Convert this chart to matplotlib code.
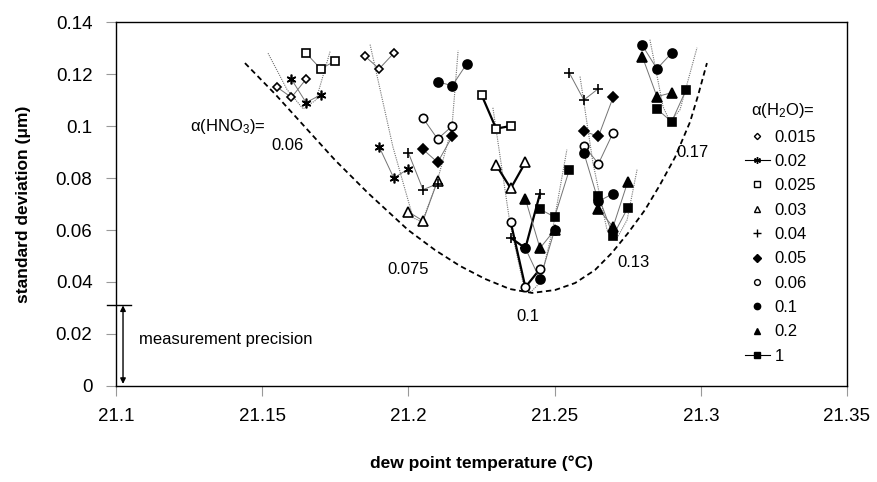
import matplotlib.pyplot as plt
from matplotlib.lines import Line2D

plt.rcParams['font.family'] = ['Liberation Sans', 'DejaVu Sans']
plt.rcParams['mathtext.fontset'] = 'custom'
plt.rcParams['mathtext.rm'] = 'Liberation Sans'
plt.rcParams['mathtext.default'] = 'regular'

# alpha(H2O) series (legend)
h2o_labels = ['0.015', '0.02', '0.025', '0.03', '0.04', '0.05', '0.06', '0.1', '0.2', '1']
h2o_markers = ['D', (6, 2, 0), 's', '^', '+', 'D', 'o', 'o', '^', 's']
h2o_filled = [False, True, False, False, True, True, False, True, True, True]
h2o_size = [4.5, 7, 6, 6.5, 7.5, 5.5, 6, 6.5, 6.5, 6]
legend_lines = ['0.02', '1']

# alpha(HNO3) = 0.06
g006_series = ['0.015', '0.02', '0.025']
g006_x = [[21.155, 21.16, 21.165], [21.16, 21.165, 21.17], [21.165, 21.17, 21.175]]
g006_y = [[0.115, 0.111, 0.118], [0.118, 0.109, 0.112], [0.128, 0.122, 0.125]]

# alpha(HNO3) = 0.075
g0075_series = ['0.015', '0.02', '0.03', '0.04', '0.05', '0.06', '0.1']
g0075_x = [[21.185, 21.19, 21.195], [21.19, 21.195, 21.2], [21.2, 21.205, 21.21],
           [21.2, 21.205, 21.21], [21.205, 21.21, 21.215], [21.205, 21.21, 21.215],
           [21.21, 21.215, 21.22]]
g0075_y = [[0.127, 0.122, 0.128], [0.092, 0.080, 0.0835], [0.067, 0.0635, 0.079],
           [0.0897, 0.0755, 0.0778], [0.091, 0.086, 0.096], [0.103, 0.095, 0.100],
           [0.117, 0.1155, 0.124]]

# alpha(HNO3) = 0.1
g01_series = ['0.025', '0.03', '0.04', '0.06', '0.1', '0.2', '1']
g01_x = [[21.225, 21.23, 21.235], [21.23, 21.235, 21.24], [21.235, 21.24, 21.245],
         [21.235, 21.24, 21.245], [21.24, 21.245, 21.25], [21.24, 21.245, 21.25],
         [21.245, 21.25, 21.255]]
g01_y = [[0.112, 0.099, 0.100], [0.085, 0.076, 0.086], [0.057, 0.053, 0.074],
         [0.063, 0.038, 0.045], [0.053, 0.041, 0.060], [0.072, 0.053, 0.060],
         [0.068, 0.065, 0.083]]
g01_bold = ['0.025', '0.03', '0.04', '0.06']

# alpha(HNO3) = 0.13
g013_series = ['0.04', '0.05', '0.06', '0.1', '0.2', '1']
g013_x = [[21.255, 21.26, 21.265], [21.26, 21.265, 21.27], [21.26, 21.265, 21.27],
          [21.26, 21.265, 21.27], [21.265, 21.27, 21.275], [21.265, 21.27, 21.275]]
g013_y = [[0.1205, 0.110, 0.1144], [0.098, 0.096, 0.111], [0.0924, 0.0855, 0.0974],
          [0.0897, 0.071, 0.074], [0.068, 0.0612, 0.0785], [0.073, 0.0578, 0.0685]]

# alpha(HNO3) = 0.17
g017_series = ['0.1', '0.2', '1']
g017_x = [[21.28, 21.285, 21.29], [21.28, 21.285, 21.29], [21.285, 21.29, 21.295]]
g017_y = [[0.131, 0.122, 0.128], [0.1267, 0.1113, 0.1128], [0.1066, 0.1016, 0.114]]

# dotted trend curves per alpha(HNO3) group
fit006_x = [21.152, 21.1585, 21.164, 21.1684, 21.1732]
fit006_y = [0.128, 0.114, 0.1066, 0.110, 0.1286]
fit0075_x = [21.1869, 21.1947, 21.2016, 21.2047, 21.2098, 21.2149, 21.2170]
fit0075_y = [0.1313, 0.0920, 0.0647, 0.0631, 0.0785, 0.0997, 0.1290]
fit01_x = [21.2289, 21.2347, 21.2392, 21.2419, 21.2450, 21.2491, 21.2542]
fit01_y = [0.1070, 0.0628, 0.0397, 0.0362, 0.0397, 0.0589, 0.0909]
fit013_x = [21.2587, 21.2631, 21.2679, 21.2710, 21.2748, 21.2782]
fit013_y = [0.1190, 0.0859, 0.0601, 0.0562, 0.0639, 0.0832]
fit017_x = [21.2826, 21.2871, 21.2895, 21.2929, 21.2987]
fit017_y = [0.1332, 0.1074, 0.1016, 0.1063, 0.1301]

# dashed envelope of the minima
env_x = [21.1441, 21.1544, 21.1640, 21.1749, 21.1862, 21.1999, 21.2091, 21.2176,
         21.2262, 21.2347, 21.2423, 21.2501, 21.2570, 21.2638, 21.2696, 21.2751,
         21.2809, 21.2860, 21.2912, 21.2963, 21.2990, 21.3021]
env_y = [0.1242, 0.1123, 0.1004, 0.0869, 0.0742, 0.0600, 0.0523, 0.0462,
         0.0412, 0.0373, 0.0358, 0.0369, 0.0396, 0.0446, 0.0512, 0.0588,
         0.0677, 0.0773, 0.0880, 0.1015, 0.1115, 0.1242]

hno3_labels = ['0.06', '0.075', '0.1', '0.13', '0.17']
hno3_lx = [21.1588, 21.1999, 21.2409, 21.2771, 21.2970]
hno3_ly = [0.0924, 0.0447, 0.0266, 0.0474, 0.0897]

precision = 0.031

x_ticks = [21.1, 21.15, 21.2, 21.25, 21.3, 21.35]
x_ticklabels = ['21.1', '21.15', '21.2', '21.25', '21.3', '21.35']
y_ticks = [0, 0.02, 0.04, 0.06, 0.08, 0.1, 0.12, 0.14]
y_ticklabels = ['0', '0.02', '0.04', '0.06', '0.08', '0.1', '0.12', '0.14']

fig = plt.figure(figsize=(8.78, 4.82), dpi=100)
ax = fig.add_axes([116 / 878, 1 - 386 / 482, 731 / 878, 364 / 482])

groups = [(g006_series, g006_x, g006_y, []),
          (g0075_series, g0075_x, g0075_y, []),
          (g01_series, g01_x, g01_y, g01_bold),
          (g013_series, g013_x, g013_y, []),
          (g017_series, g017_x, g017_y, [])]

for fx, fy in [(fit006_x, fit006_y), (fit0075_x, fit0075_y), (fit01_x, fit01_y),
               (fit013_x, fit013_y), (fit017_x, fit017_y)]:
    ax.plot(fx, fy, color='0.45', lw=0.8, ls=(0, (1, 1)), zorder=1)

ax.plot(env_x, env_y, color='black', lw=1.3, ls=(0, (3, 2)), zorder=1)

for series, xs, ys, bold in groups:
    for lab, x, y in zip(series, xs, ys):
        i = h2o_labels.index(lab)
        if lab in bold:
            ax.plot(x, y, color='black', lw=1.6, zorder=2)
        else:
            ax.plot(x, y, color='0.45', lw=0.7, zorder=2)
        ax.plot(x, y, ls='none', marker=h2o_markers[i], ms=h2o_size[i],
                mfc='black' if h2o_filled[i] else 'white', mec='black',
                mew=1.2, zorder=3)

for lab, lx, ly in zip(hno3_labels, hno3_lx, hno3_ly):
    ax.text(lx, ly, lab, fontsize=12, ha='center', va='center')
ax.text(21.1253, 0.0997, 'α(HNO$_3$)=', fontsize=12, ha='left', va='center')

# measurement precision marker
ax.annotate('', xy=(21.1024, 0.0008), xytext=(21.1024, precision),
            arrowprops=dict(arrowstyle='<|-|>', lw=1, color='black',
                            shrinkA=0, shrinkB=0, mutation_scale=8))
ax.plot([21.0969, 21.1051], [precision, precision], color='black', lw=1,
        clip_on=False)
ax.text(21.1079, 0.0177, 'measurement precision', fontsize=12, ha='left',
        va='center')

handles = []
for i, lab in enumerate(h2o_labels):
    handles.append(Line2D([], [], color='black', lw=0.8,
                          ls='-' if lab in legend_lines else 'none',
                          marker=h2o_markers[i], ms=h2o_size[i] * 0.7,
                          mfc='black' if h2o_filled[i] else 'white',
                          mec='black', mew=1.0))
fig.text(783 / 878, 1 - 110 / 482, 'α(H$_2$O)=', fontsize=12, ha='center',
         va='center')
leg = ax.legend(handles, h2o_labels, frameon=False,
                loc='upper left', bbox_to_anchor=(738 / 878, 1 - 123 / 482),
                bbox_transform=fig.transFigure, fontsize=12,
                handlelength=1.5, handletextpad=0.3, labelspacing=0.56,
                borderaxespad=0)

ax.set_xlim(21.1, 21.35)
ax.set_ylim(0, 0.14)
ax.set_xticks(x_ticks)
ax.set_xticklabels(x_ticklabels)
ax.set_yticks(y_ticks)
ax.set_yticklabels(y_ticklabels)
ax.tick_params(axis='both', direction='out', length=7, color='0.6',
               labelsize=13.5)
ax.tick_params(axis='x', pad=8.5)
ax.tick_params(axis='y', pad=10)
for s in ax.spines.values():
    s.set_linewidth(1.0)

ax.set_xlabel('dew point temperature (°C)', fontsize=12.5, fontweight='bold',
              labelpad=22)
ax.set_ylabel('standard deviation (μm)', fontsize=12.5, fontweight='bold',
              labelpad=18)

fig.savefig('out.png', dpi=100)
